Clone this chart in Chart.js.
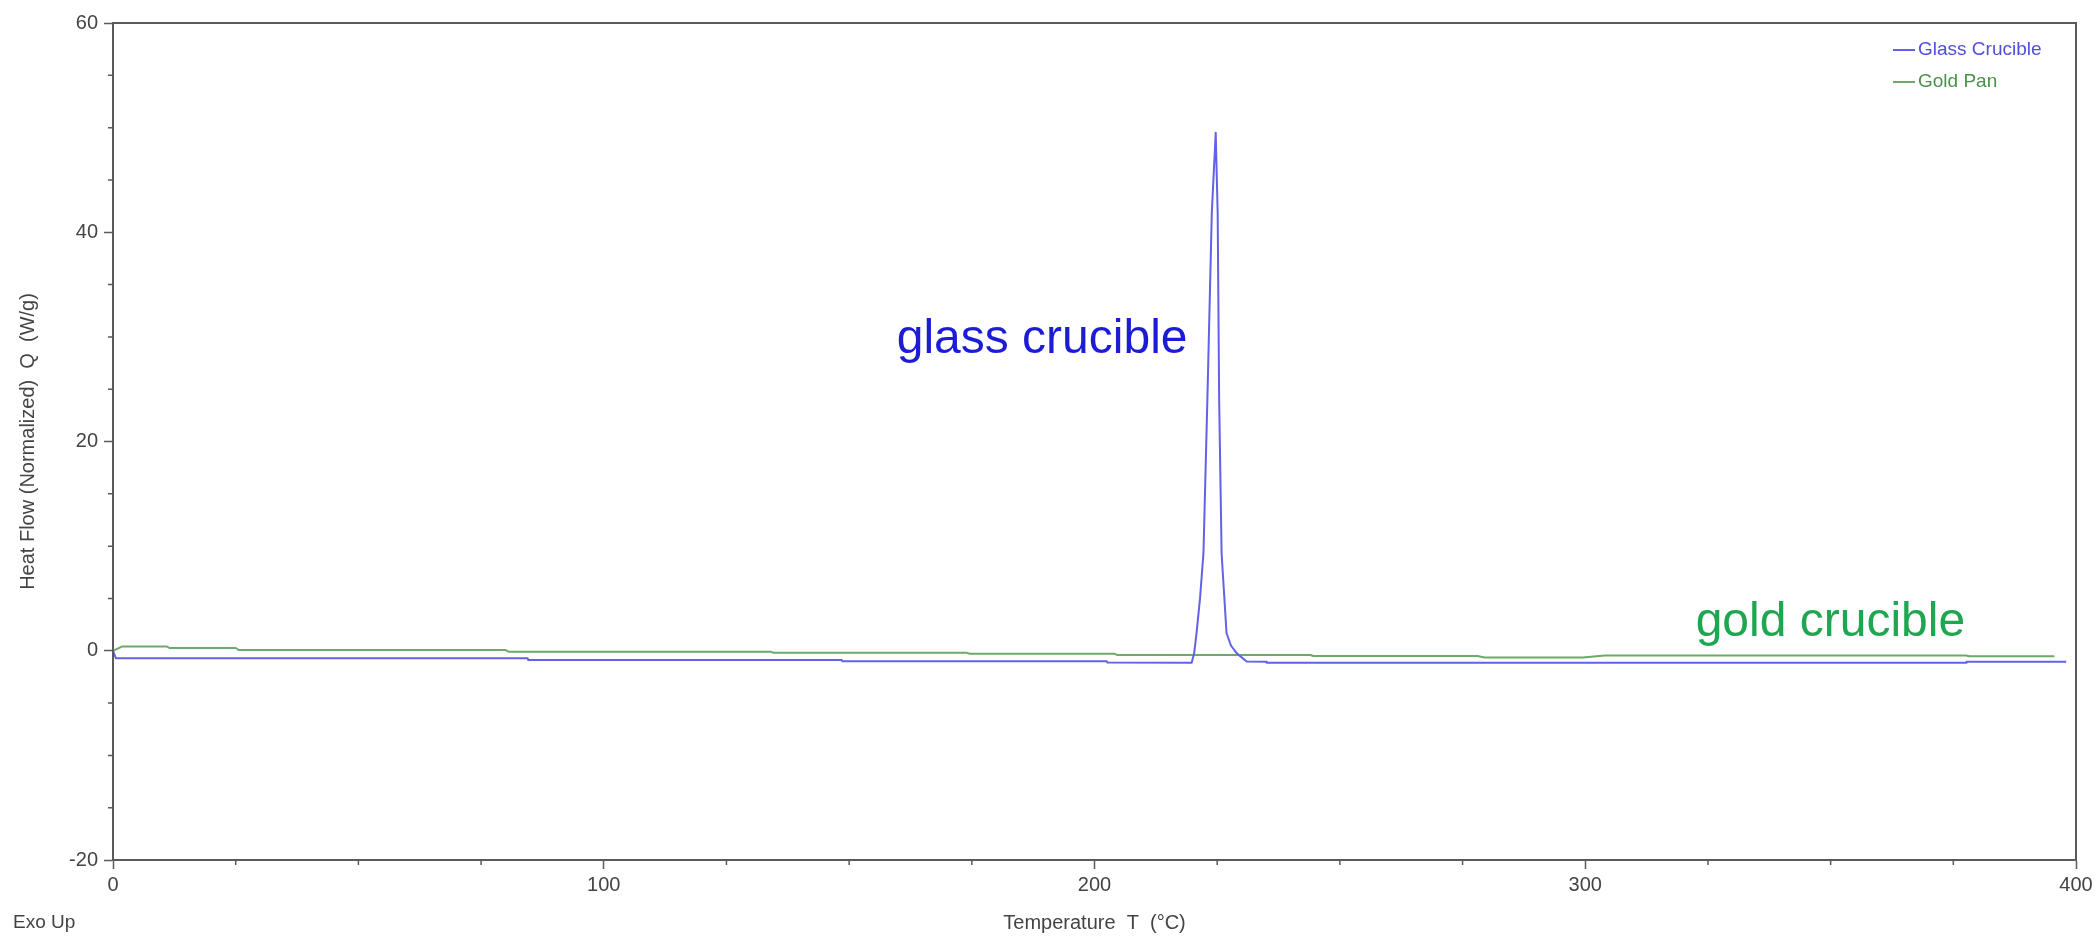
<!DOCTYPE html>
<html>
<head>
<meta charset="utf-8">
<script src="https://cdn.jsdelivr.net/npm/chart.js@4.4.0/dist/chart.umd.min.js"></script>
<style>
html, body { margin: 0; padding: 0; background: #fff; }
</style>
</head>
<body>
<canvas id="chart-dsc" width="2097" height="939"></canvas>
<script>
// temperature (°C) and normalized heat flow (W/g)
var glassTemp = [0, 0.6, 84.5, 84.6, 148.5, 148.6, 202.5, 202.6, 219.8, 220.3, 220.8, 221.5, 222.2, 222.7, 223.0, 223.9, 224.7,
                 225.1, 225.4, 225.9, 226.9, 227.8, 229.0, 231.0, 235.0, 235.1, 377.6, 377.7, 398.0];
var glassFlow = [0, -0.72, -0.72, -0.88, -0.88, -1.0, -1.0, -1.12, -1.15, -0.25, 1.7, 5.0, 9.3, 18.5, 24.0, 41.8, 49.5,
                 41.8, 24.0, 9.3, 1.7, 0.5, -0.25, -1.02, -1.05, -1.15, -1.15, -1.05, -1.05];

var goldTemp = [0, 1.8, 11.0, 11.6, 25.0, 25.6, 80.0, 80.6, 134.0, 134.6, 174.0, 174.6, 204.0, 204.6, 244.0, 244.6,
                278.0, 279.5, 299.5, 304.0, 377.6, 378.2, 395.6];
var goldFlow = [0, 0.4, 0.4, 0.26, 0.26, 0.07, 0.07, -0.09, -0.09, -0.2, -0.2, -0.28, -0.28, -0.4, -0.4, -0.5,
                -0.5, -0.65, -0.65, -0.45, -0.45, -0.52, -0.52];

var seriesLabels = ["Glass Crucible", "Gold Pan"];
var xLabelTicks = [0, 100, 200, 300, 400];
var yLabelTicks = [-20, 0, 20, 40, 60];

var FONT = "'Liberation Sans', Arial, sans-serif";
var AXIS = '#5a5a5a';

function toPoints(t, q) {
    var pts = [];
    for (var i = 0; i < t.length; i++) pts.push({ x: t[i], y: q[i] });
    return pts;
}

function isMajor(list, v) {
    return list.indexOf(Math.round(v * 1000) / 1000) != -1;
}

// frame, minor ticks, inside legend and the free text on the plot
var decor = {
    id: 'decor',
    afterDraw: function(chart) {
        var ctx = chart.ctx, a = chart.chartArea;
        var xs = chart.scales.x, ys = chart.scales.y;
        ctx.save();

        ctx.strokeStyle = AXIS;
        ctx.lineWidth = 2;
        ctx.strokeRect(a.left, a.top, a.right - a.left, a.bottom - a.top);

        ctx.lineWidth = 1.5;
        ctx.beginPath();
        xs.ticks.forEach(function(t) {
            if (isMajor(xLabelTicks, t.value)) return;
            var px = xs.getPixelForValue(t.value);
            ctx.moveTo(px, a.bottom); ctx.lineTo(px, a.bottom + 5);
        });
        ys.ticks.forEach(function(t) {
            if (isMajor(yLabelTicks, t.value)) return;
            var py = ys.getPixelForValue(t.value);
            ctx.moveTo(a.left - 5, py); ctx.lineTo(a.left, py);
        });
        ctx.stroke();

        // legend, top right inside the box
        var legendText = ['#4f4fdc', '#4a914a'];
        ctx.font = '19px ' + FONT;
        ctx.textBaseline = 'middle';
        ctx.textAlign = 'left';
        chart.data.datasets.forEach(function(ds, i) {
            var y = a.top + 27 + i * 32;
            var x0 = a.right - 183;
            ctx.strokeStyle = ds.borderColor;
            ctx.lineWidth = 2;
            ctx.beginPath();
            ctx.moveTo(x0, y); ctx.lineTo(x0 + 22, y);
            ctx.stroke();
            ctx.fillStyle = legendText[i];
            ctx.fillText(ds.label, x0 + 25, y);
        });

        // hand written labels of the curves
        ctx.font = '48px ' + FONT;
        ctx.textBaseline = 'alphabetic';
        ctx.fillStyle = '#1c1cd6';
        ctx.fillText('glass crucible', xs.getPixelForValue(159.7), ys.getPixelForValue(28.5));
        ctx.fillStyle = '#1fa650';
        ctx.fillText('gold crucible', xs.getPixelForValue(322.5), ys.getPixelForValue(1.4));

        ctx.font = '19px ' + FONT;
        ctx.textBaseline = 'middle';
        ctx.fillStyle = '#444';
        ctx.fillText('Exo Up', 13, 923);

        ctx.restore();
    }
};

var config = {
    type: 'line',
    data: {
        datasets: [
            {
                label: seriesLabels[0],
                data: toPoints(glassTemp, glassFlow),
                borderColor: '#6262e6',
                borderWidth: 2,
                borderJoinStyle: 'round',
                pointRadius: 0,
                tension: 0,
                fill: false
            },
            {
                label: seriesLabels[1],
                data: toPoints(goldTemp, goldFlow),
                borderColor: '#6aaa6a',
                borderWidth: 2,
                borderJoinStyle: 'round',
                pointRadius: 0,
                tension: 0,
                fill: false
            }
        ]
    },
    options: {
        responsive: false,
        animation: false,
        devicePixelRatio: 1,
        layout: { padding: { left: 0, top: 23, right: 21, bottom: 0 } },
        plugins: {
            legend: { display: false },
            tooltip: { enabled: false }
        },
        scales: {
            x: {
                type: 'linear',
                min: 0,
                max: 400,
                afterFit: function(s) { s.height = 79; },
                ticks: {
                    stepSize: 25,
                    autoSkip: false,
                    maxRotation: 0,
                    padding: 4,
                    color: '#444',
                    font: { family: FONT, size: 20 },
                    callback: function(v) { return isMajor(xLabelTicks, v) ? v : ''; }
                },
                grid: {
                    drawOnChartArea: false,
                    tickLength: 9,
                    tickWidth: 1.5,
                    tickColor: function(c) { return c.tick && isMajor(xLabelTicks, c.tick.value) ? AXIS : 'rgba(0,0,0,0)'; }
                },
                border: { color: AXIS, width: 2 },
                title: {
                    display: true,
                    text: 'Temperature  T  (°C)',
                    color: '#444',
                    font: { family: FONT, size: 20 },
                    padding: { top: 0, bottom: 4 }
                }
            },
            y: {
                min: -20,
                max: 60,
                afterFit: function(s) { s.width = 113; },
                ticks: {
                    stepSize: 5,
                    autoSkip: false,
                    padding: 6,
                    color: '#444',
                    font: { family: FONT, size: 20 },
                    callback: function(v) { return isMajor(yLabelTicks, v) ? v : ''; }
                },
                grid: {
                    drawOnChartArea: false,
                    tickLength: 9,
                    tickWidth: 1.5,
                    tickColor: function(c) { return c.tick && isMajor(yLabelTicks, c.tick.value) ? AXIS : 'rgba(0,0,0,0)'; }
                },
                border: { color: AXIS, width: 2 },
                title: {
                    display: true,
                    text: 'Heat Flow (Normalized)  Q  (W/g)',
                    color: '#444',
                    font: { family: FONT, size: 20 },
                    padding: { top: 16, bottom: 0 }
                }
            }
        }
    },
    plugins: [decor]
};

window.onload = function() {
    var ctx = document.getElementById("chart-dsc").getContext("2d");
    window.dsc = new Chart(ctx, config);
};
</script>
</body>
</html>
